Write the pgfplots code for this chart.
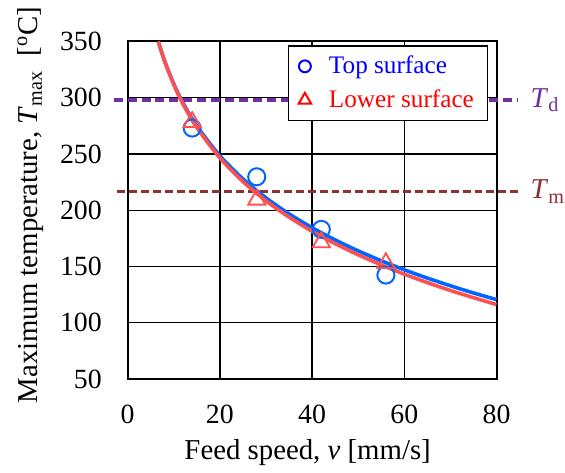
\documentclass[border=0pt]{standalone}
\usepackage{fontspec}
\setmainfont{Liberation Serif}
\usepackage{pgfplots}
\pgfplotsset{compat=1.18}
\definecolor{cblue}{RGB}{0,102,255}
\definecolor{cred}{RGB}{255,80,80}
\definecolor{tdcol}{RGB}{112,48,160}
\definecolor{tmcol}{RGB}{140,50,50}
\begin{document}
\begin{tikzpicture}
\begin{axis}[
  scale only axis,
  width=185.75pt, height=170pt,
  xmin=0, xmax=80, ymin=50, ymax=350,
  xtick={0,20,40,60,80}, ytick={50,100,...,350},
  grid=major, major grid style={black, line width=0.7pt},
  axis line style={black, line width=1pt},
  major tick length=0pt,
  clip=false,
  /pgf/number format/assume math mode=true,
  tick label style={font=\fontsize{14}{16}\selectfont},
  xticklabel style={yshift=-9.5pt},
  yticklabel style={xshift=-9.5pt},
  xlabel={Feed speed, \textit{v} [mm/s]},
  ylabel={Maximum temperature, \textit{T}\textsubscript{max}\ \ [\textsuperscript{o}C]},
  label style={font=\fontsize{14.5}{16}\selectfont},
  xlabel style={at={(axis description cs:0.488,-0.218)}, anchor=center},
  ylabel style={at={(axis description cs:-0.263,0.515)}, anchor=center},
  legend style={at={(axis description cs:0.978,0.988)}, anchor=north east,
    draw=black, line width=0.6pt, font=\fontsize{12.7}{14}\selectfont,
    row sep=2.5pt, inner xsep=5pt, inner ysep=3pt},
  legend cell align=left,
]
% reference lines
\addplot[forget plot, tdcol, line width=2pt, dash pattern=on 4.5pt off 2.5pt] coordinates {(-3,298) (84.5,298)};
\addplot[forget plot, tmcol, line width=1.6pt, dash pattern=on 4pt off 2pt] coordinates {(-2.3,216.5) (85,216.5)};
% markers
\addplot[forget plot, only marks, mark=o, mark size=4.3pt, mark options={cblue, line width=1pt}] coordinates {
(14,273) (28,229.7) (42,183) (56,142.4)};
\addplot[forget plot, only marks, mark=triangle, mark size=5pt, mark options={cred, line width=0.9pt}] coordinates {
(14,278.3) (28,209.4) (42,171.5) (56,153)};
% fitted curves
\addplot[forget plot, cblue, line width=1.8pt, smooth] coordinates {
(6.65,349.9) (8,332.9) (10,312.3) (12,295.5) (15,274.9) (20,248.4) (25,227.8) (30,211.0) (35,196.8) (40,184.5) (45,173.6) (50,163.9) (55,155.1) (60,147.1) (65,139.7) (70,132.9) (75,126.5) (80,120.6)};
\addplot[forget plot, cred, line width=1.8pt, smooth] coordinates {
(6.65,350.0) (8,332.6) (10,311.7) (12,294.5) (15,273.5) (20,246.5) (25,225.5) (30,208.4) (35,193.9) (40,181.3) (45,170.3) (50,160.4) (55,151.4) (60,143.2) (65,135.7) (70,128.7) (75,122.3) (80,116.2)};
% legend
\addlegendimage{only marks, mark=o, mark size=3pt, mark options={blue, line width=1pt}}
\addlegendentry{\hspace{7pt}\textcolor{blue}{Top surface}}
\addlegendimage{only marks, mark=triangle, mark size=3.6pt, mark options={red, line width=1pt}}
\addlegendentry{\hspace{7pt}\textcolor{red}{Lower surface}}
% labels
\node[anchor=west, tdcol, font=\fontsize{14.5}{16}\selectfont, inner sep=0pt] at (axis cs:87.3,298) {\textit{T}\textsubscript{d}};
\node[anchor=west, tmcol, font=\fontsize{14.5}{16}\selectfont, inner sep=0pt] at (axis cs:87.3,216.5) {\textit{T}\textsubscript{m}};
\coordinate (bl) at (rel axis cs:-0.3459,-0.242);
\coordinate (tr) at (rel axis cs:1.175,1.1226);
\end{axis}
\path (bl) rectangle (tr);
\end{tikzpicture}
\end{document}
